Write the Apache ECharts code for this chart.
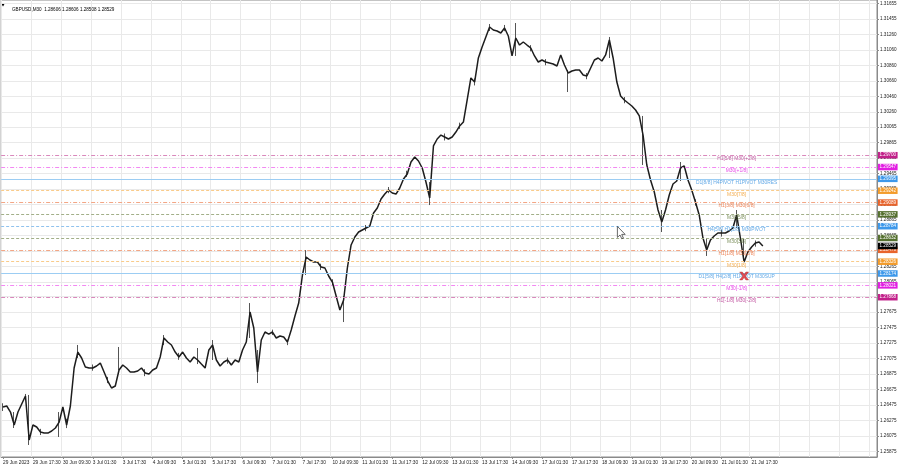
<!DOCTYPE html>
<html><head><meta charset="utf-8">
<script src="https://cdn.jsdelivr.net/npm/echarts@6/dist/echarts.min.js"></script>
<style>html,body{margin:0;padding:0;background:#fff}#c{width:900px;height:468px}</style>
</head><body><div id="c"></div>
<script>
// ---- data (GBPUSD M30, aggregated to 2-hour slots) ----
const timeLabels = ['29 Jun 2023','29 Jun 17:30','30 Jun 09:30','3 Jul 01:30','3 Jul 17:30','4 Jul 09:30','5 Jul 01:30','5 Jul 17:30','6 Jul 09:30','7 Jul 01:30','7 Jul 17:30','10 Jul 09:30','11 Jul 01:30','11 Jul 17:30','12 Jul 09:30','13 Jul 01:30','13 Jul 17:30','14 Jul 09:30','17 Jul 01:30','17 Jul 17:30','18 Jul 09:30','19 Jul 01:30','19 Jul 17:30','20 Jul 09:30','21 Jul 01:30','21 Jul 17:30'];
const closes = [
1.26452,1.26465,1.26387,1.26220,1.26387,1.26490,1.26594,1.26026,1.26220,1.26194,
1.26129,1.26116,1.26116,1.26142,1.26181,1.26258,1.26452,1.26220,1.26465,1.26955,
1.27161,1.27084,1.26968,1.26955,1.26955,1.26981,1.27019,1.26903,1.26787,1.26697,
1.26723,1.26929,1.26994,1.26955,1.26903,1.26903,1.26916,1.26955,1.26890,1.26877,
1.26929,1.26955,1.27097,1.27342,1.27290,1.27252,1.27161,1.27097,1.27161,1.27084,
1.27032,1.27097,1.27058,1.27006,1.26955,1.27187,1.27252,1.27058,1.26981,1.27032,
1.27058,1.26994,1.27058,1.27032,1.27187,1.27290,1.27677,1.27471,1.26903,1.27316,
1.27419,1.27393,1.27419,1.27342,1.27368,1.27355,1.27290,1.27445,1.27626,1.27793,
1.28155,1.28387,1.28348,1.28322,1.28322,1.28258,1.28245,1.28142,1.28064,1.27884,
1.27703,1.27832,1.28245,1.28542,1.28645,1.28709,1.28735,1.28761,1.28787,1.28954,
1.29019,1.29135,1.29199,1.29251,1.29212,1.29199,1.29277,1.29393,1.29457,1.29612,
1.29677,1.29625,1.29535,1.29354,1.29148,1.29819,1.29909,1.29960,1.29935,1.29909,
1.29935,1.29999,1.30077,1.30128,1.30412,1.30696,1.30644,1.30954,1.31096,1.31225,
1.31354,1.31315,1.31302,1.31276,1.31341,1.31238,1.30980,1.31212,1.31121,1.31160,
1.31121,1.31083,1.30980,1.30902,1.30928,1.30902,1.30889,1.30876,1.30851,1.30993,
1.30864,1.30760,1.30786,1.30799,1.30799,1.30735,1.30722,1.30825,1.30928,1.30954,
1.30915,1.30993,1.31186,1.30954,1.30644,1.30464,1.30412,1.30373,1.30335,1.30283,
1.30206,1.29960,1.29574,1.29380,1.29225,1.28993,1.28838,1.28993,1.29187,1.29328,
1.29367,1.29535,1.29561,1.29380,1.29251,1.29096,1.28929,1.28632,1.28477,1.28606,
1.28658,1.28696,1.28696,1.28696,1.28722,1.28761,1.28929,1.28632,1.28322,1.28451,
1.28516,1.28567,1.28580,1.28529];
// notable wicks: [slot, low, high]
const spikes = [
[0,1.26400,1.26500],[3,1.26181,1.26387],[6,1.26540,1.26620],[7,1.25962,1.26607],[10,1.26090,1.26170],
[15,1.26065,1.26387],[17,1.26180,1.26300],[20,1.27084,1.27252],[24,1.26920,1.27000],[28,1.26760,1.26840],
[31,1.26929,1.27226],[38,1.26850,1.26940],[43,1.27252,1.27380],[47,1.27060,1.27150],[52,1.27006,1.27213],
[56,1.27058,1.27316],[60,1.27010,1.27090],[66,1.27342,1.27793],[68,1.26761,1.27187],[72,1.27380,1.27450],
[76,1.27250,1.27320],[81,1.28155,1.28477],[85,1.28220,1.28300],[88,1.28020,1.28100],[91,1.27548,1.27884],
[97,1.28720,1.28800],[103,1.29210,1.29290],[108,1.29420,1.29500],[114,1.29057,1.29354],[118,1.29890,1.29980],
[122,1.30040,1.30120],[126,1.30600,1.30690],[130,1.31302,1.31392],[134,1.31300,1.31380],[137,1.30980,1.31405],
[141,1.31040,1.31120],[145,1.30860,1.30940],[151,1.30515,1.30799],[156,1.30680,1.30760],[162,1.30954,1.31225],
[166,1.30370,1.30450],[171,1.29574,1.30206],[176,1.28709,1.28993],[181,1.29367,1.29612],[185,1.29050,1.29130],
[188,1.28400,1.28632],[192,1.28650,1.28740],[196,1.28761,1.28993],[198,1.28367,1.28632],[201,1.28520,1.28600]];
const levelPrices = [1.29700,1.29547,1.29395,1.29242,1.29089,1.28937,1.28784,1.28632,1.28479,1.28326,1.28174,1.28021,1.27868];
const levelNames = ['H1[5/8] M30[+2/8]','M30[+1/8]','D1[8/8] H4PIVOT H1PIVOT M30RES','M30[7/8]','H1[3/8] M30[6/8]','M30[5/8]','H4[5/8] H1[2/8] M30PIVOT','M30[3/8]','H1[1/8] M30[2/8]','M30[1/8]','D1[5/8] H4[2/8] H1PIVOT M30SUP','M30[-1/8]','H1[-1/8] M30[-2/8]'];
const yTicks = [1.25875,1.26075,1.26275,1.26475,1.26675,1.26875,1.27075,1.27275,1.27475,1.27675,1.27875,1.28065,1.28265,1.28465,1.28665,1.28865,1.29065,1.29265,1.29465,1.29665,1.29865,1.30065,1.30260,1.30460,1.30660,1.30860,1.31060,1.31260,1.31455,1.31655];
const lastPrice = 1.28529;
const crossMark = [198, 1.28142];
const titleText = 'GBPUSD,M30  1.28606 1.28606 1.28508 1.28529';

// ---- styles ----
const SLOTS = 234;
const slots = Array.from({length: SLOTS}, (_, i) => i);
const FONT = 'Liberation Sans';
const DD = [4,2,1,2];
const PURPLE = {line:'#d988bc', text:'#b4308c', box:'#c2208a', type:DD};
const MAG = {line:'#f388f3', text:'#e020e0', box:'#e21ee2', type:DD};
const BLUES = {line:'#9ccdf3', text:'#3a92e0', box:'#3d98ea', type:'solid'};
const BLUED = {line:'#8fc2ee', text:'#3a92e0', box:'#3d98ea', type:[3,2]};
const ORANGE = {line:'#f9cb8a', text:'#f0961e', box:'#f39c2c', type:[3,2]};
const ORED = {line:'#f3a685', text:'#e8642c', box:'#e8642c', type:DD};
const OLIVE = {line:'#a2af88', text:'#587030', box:'#55702f', type:[3,2]};
const levelStyles = [PURPLE,MAG,BLUES,ORANGE,ORED,OLIVE,BLUED,OLIVE,ORED,ORANGE,BLUES,MAG,PURPLE];

const spikeData = slots.map(() => '-');
spikes.forEach(s => { spikeData[s[0]] = [closes[s[0]], closes[s[0]], s[1], s[2]]; });

const boxLabel = (bg) => ({show:true, position:'end', distance:1, formatter:(p)=>Number(p.value).toFixed(5),
  backgroundColor:bg, color:'#fff', opacity:1, fontSize:4.6, fontFamily:FONT, padding:[1,1.5,0.5,1.5], lineHeight:5});

const markData = levelPrices.map((p, i) => ({
  yAxis: p,
  lineStyle:{color:levelStyles[i].line, type:levelStyles[i].type, width:1},
  label: boxLabel(levelStyles[i].box)
}));
markData.push({yAxis:lastPrice, lineStyle:{width:0, color:'rgba(0,0,0,0)'}, label: boxLabel('#000')});

const chart = echarts.init(document.getElementById('c'), null, {renderer:'canvas'});
const labelOK = (i) => i % 8 === 0 && i / 8 < timeLabels.length;
chart.setOption({
  animation:false,
  backgroundColor:'#fff',
  title:{text:titleText, left:7, top:2, textStyle:{fontSize:4.6, fontWeight:'normal', color:'#000', fontFamily:FONT}},
  graphic:[
    {type:'polygon', shape:{points:[[1,3],[5,3],[3,6.5]]}, style:{fill:'#000'}},
    {type:'polygon', left:617, top:226, z:100,
     shape:{points:[[0,0],[0,11],[2.6,8.6],[4.4,12.4],[6,11.7],[4.3,8],[7.8,8]]},
     style:{fill:'#fff', stroke:'#444', lineWidth:0.8}}
  ],
  grid:{left:0, right:23, top:0, bottom:11, show:true, borderColor:'#8a8a8a', borderWidth:1},
  xAxis:{type:'category', data:slots, boundaryGap:true,
    axisLine:{show:true, lineStyle:{color:'#8a8a8a'}},
    axisTick:{show:true, length:2, alignWithLabel:true, interval:labelOK, lineStyle:{color:'#8a8a8a'}},
    axisLabel:{interval:labelOK, showMinLabel:true, hideOverlap:false, formatter:(v, i) => timeLabels[i / 8] || '', align:'left', fontSize:4.8, color:'#222', margin:3, fontFamily:FONT},
    splitLine:{show:true, interval:(i) => i % 8 === 0, lineStyle:{color:'#e9e9e9', width:1}}},
  yAxis:{type:'value', position:'right', min:1.25807, max:1.31702, scale:true,
    axisLine:{show:true, lineStyle:{color:'#8a8a8a'}},
    axisTick:{show:true, length:2, customValues:yTicks, lineStyle:{color:'#8a8a8a'}},
    axisLabel:{customValues:yTicks, formatter:(v) => v.toFixed(5), fontSize:4.6, color:'#222', margin:3, fontFamily:FONT},
    splitLine:{show:true, lineStyle:{color:'#e9e9e9', width:1}}},
  series:[
    {type:'line', name:'price', data:closes, symbol:'none', z:3,
     lineStyle:{width:1.5, color:'#1d1d1d'},
     markLine:{silent:true, precision:5, symbol:['none','none'], data:markData, z:5}},
    {type:'candlestick', data:spikeData, barWidth:1, z:2,
     itemStyle:{color:'#555', color0:'#555', borderColor:'#555', borderColor0:'#555', borderWidth:1}},
    {type:'scatter', symbolSize:0, z:6, silent:true,
     data:levelPrices.map((p, i) => ({value:[196, p],
       label:{show:true, position:'bottom', distance:1, formatter:levelNames[i], color:levelStyles[i].text, fontSize:4.9, fontFamily:FONT}}))},
    {type:'scatter', z:7, silent:true, data:[crossMark], symbolSize:[9,8],
     symbol:'path://M0,0 L3,0 L5,2.5 L7,0 L10,0 L6.5,4 L10,8 L7,8 L5,5.5 L3,8 L0,8 L3.5,4 Z',
     itemStyle:{color:'#e5262a', borderColor:'#8a1010', borderWidth:0.4}}
  ]
});
</script></body></html>
